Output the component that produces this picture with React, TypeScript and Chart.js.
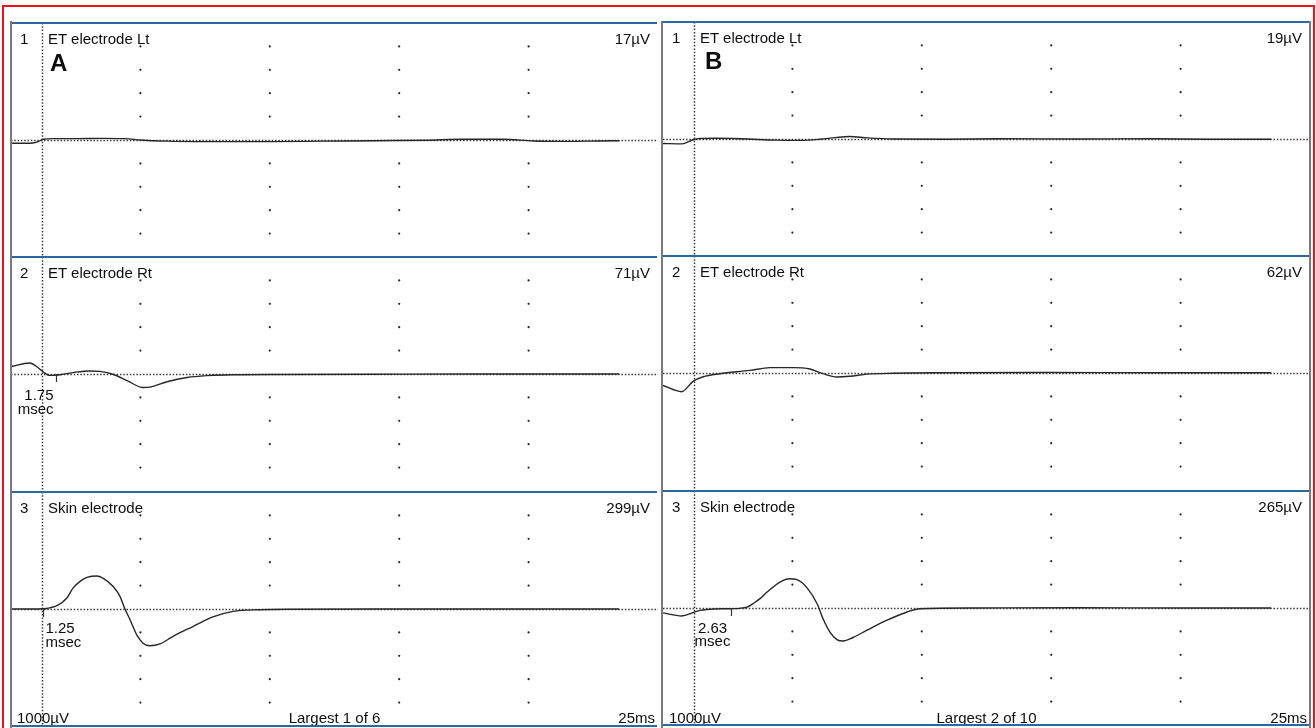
import React, { useEffect, useRef } from 'react';
import { Chart, registerables } from 'chart.js';

Chart.register(...registerables);

// ---------- data ----------
const channelNo = ['1', '2', '3'];
const channelName = ['ET electrode Lt', 'ET electrode Rt', 'Skin electrode'];
const peakA = ['17µV', '71µV', '299µV'];
const peakB = ['19µV', '62µV', '265µV'];
const panelLetter = ['A', 'B'];
const sensitivityLabel = '1000µV';
const sweepLabel = '25ms';
const summaryA = 'Largest 1 of 6';
const summaryB = 'Largest 2 of 10';

const latencyA: (number | null)[] = [null, 1.75, 1.25];
const latencyB: (number | null)[] = [null, null, 2.63];
const latencyUnit = 'msec';

const gridMs = [5, 10, 15, 20];
const gridUv = [-400, -300, -200, -100, 100, 200, 300, 400];
const stimulusMs = 1.2;
const sweepMs = 25;
const rangeUv = 500;

// Panel A traces (time ms, amplitude µV)
const a1Time = [0, 0.7, 1.0, 1.25, 1.6, 2.5, 3.5, 4.4, 5.0, 6, 8, 10, 12, 14, 16, 17.5, 19, 20.2, 21.5, 22.7, 23.5];
const a1Uv = [-14, -14, -9, 3, 6, 6, 7, 6, 0, -5, -7, -7, -5, -3, -1, 3, 3, -4, -6, -4, -3];

const a2Time = [0, 0.73, 1.0, 1.24, 1.5, 1.9, 2.5, 3.05, 3.44, 3.94, 4.5, 5.1, 5.37, 6.03, 6.8, 7.57, 8.58, 10.4, 14, 18, 23.5];
const a2Uv = [32, 47, 31, 9, -6, -3, 8, 13, 11, -1, -29, -58, -56, -33, -15, -7, -3, -2, -1, 0, 0];

const a3Time = [0, 0.73, 1.24, 1.5, 1.78, 2.16, 2.4, 2.67, 2.94, 3.32, 3.55, 3.94, 4.21, 4.4, 4.6, 4.87, 5.1, 5.37, 5.76, 6.26, 7.03, 7.8, 8.58, 9.6, 11, 15, 20, 23.5];
const a3Uv = [0, 0, 1, 5, 14, 47, 90, 118, 135, 141, 132, 97, 54, 1, -46, -113, -146, -157, -149, -117, -75, -34, -10, -3, -1, 0, 0, 0];

// Panel B traces
const b1Time = [0, 0.73, 1.16, 1.43, 2.0, 3.0, 4.4, 5.3, 6.07, 6.65, 7.2, 7.9, 8.9, 11, 13, 16, 19, 21, 23.5];
const b1Uv = [-19, -21, -3, 2, 3, 1, -5, -6, -1, 6, 11, 5, 0, -1, 1, 0, 1, -1, -1];

const b2Time = [0, 0.72, 1.16, 1.55, 2.2, 3.36, 4.13, 5.02, 5.68, 6.18, 6.72, 7.22, 7.88, 8.89, 11, 15, 19, 23.5];
const b2Uv = [-53, -80, -36, -16, -3, 11, 23, 23, 17, -3, -17, -14, -5, -1, 1, 2, 1, 1];

const b3Time = [0, 0.72, 1.16, 1.43, 2.0, 2.6, 3.25, 3.48, 3.75, 4.02, 4.52, 4.9, 5.18, 5.56, 5.95, 6.18, 6.45, 6.72, 6.96, 7.34, 7.88, 8.66, 9.43, 9.93, 12, 16, 20, 23.5];
const b3Uv = [-21, -34, -20, -10, -4, -3, 4, 19, 40, 68, 111, 125, 121, 87, 19, -45, -103, -135, -141, -126, -95, -52, -17, -3, 0, 1, 0, 0];

const tracesA = [
  { t: a1Time, v: a1Uv },
  { t: a2Time, v: a2Uv },
  { t: a3Time, v: a3Uv },
];
const tracesB = [
  { t: b1Time, v: b1Uv },
  { t: b2Time, v: b2Uv },
  { t: b3Time, v: b3Uv },
];

// ---------- layout ----------
const PANEL_W = 647;
const ROW_H = 234;
const panelLeft = [11, 663];
const rowTops = [
  [23, 257, 492],
  [22, 256, 491],
];
const FONT = '"Liberation Sans", Arial, Helvetica, sans-serif';
const TEXT = '#0d0d0d';

const emgPlugin = {
  id: 'emgGrid',
  beforeDatasetsDraw(chart: any) {
    const { ctx, chartArea: a, scales } = chart;
    const x = scales.x;
    const y = scales.y;
    ctx.save();
    ctx.fillStyle = '#262626';
    for (const gx of gridMs) {
      for (const gy of gridUv) {
        const px = x.getPixelForValue(gx);
        const py = y.getPixelForValue(gy);
        ctx.beginPath();
        ctx.arc(px, py, 1.1, 0, Math.PI * 2);
        ctx.fill();
      }
    }
    ctx.strokeStyle = '#3a3a3a';
    ctx.lineWidth = 1.5;
    ctx.setLineDash([1.5, 1.8]);
    const by = Math.round(y.getPixelForValue(0)) + 0.5;
    ctx.beginPath();
    ctx.moveTo(a.left, by);
    ctx.lineTo(a.right, by);
    ctx.stroke();
    const sx = Math.round(x.getPixelForValue(stimulusMs)) + 0.5;
    ctx.beginPath();
    ctx.moveTo(sx, a.top);
    ctx.lineTo(sx, a.bottom);
    ctx.stroke();
    ctx.restore();
  },
  afterDatasetsDraw(chart: any, _args: any, opts: any) {
    if (opts == null || opts.latency == null) return;
    const { ctx, scales } = chart;
    const px = Math.round(scales.x.getPixelForValue(opts.latency)) + 0.5;
    const py = scales.y.getPixelForValue(0);
    ctx.save();
    ctx.strokeStyle = '#333';
    ctx.lineWidth = 1.2;
    ctx.beginPath();
    ctx.moveTo(px, py);
    ctx.lineTo(px, py + 8);
    ctx.stroke();
    ctx.restore();
  },
};

function TraceChart(props: { left: number; top: number; t: number[]; v: number[]; latency: number | null }) {
  const ref = useRef<HTMLCanvasElement>(null);
  useEffect(() => {
    const canvas = ref.current;
    if (!canvas) return;
    const chart = new Chart(canvas, {
      type: 'line',
      data: {
        datasets: [
          {
            data: props.t.map((t, i) => ({ x: t, y: props.v[i] })),
            borderColor: '#262626',
            borderWidth: 1.4,
            pointRadius: 0,
            cubicInterpolationMode: 'monotone',
            fill: false,
          },
        ],
      },
      options: {
        animation: false,
        responsive: false,
        maintainAspectRatio: false,
        events: [],
        layout: { padding: 0 },
        plugins: {
          legend: { display: false },
          tooltip: { enabled: false },
          emgGrid: { latency: props.latency },
        } as any,
        scales: {
          x: { type: 'linear', min: 0, max: sweepMs, display: false },
          y: { type: 'linear', min: -rangeUv, max: rangeUv, display: false },
        },
      },
      plugins: [emgPlugin],
    } as any);
    return () => chart.destroy();
  }, []);
  return (
    <canvas
      ref={ref}
      width={PANEL_W}
      height={ROW_H}
      style={{ position: 'absolute', left: props.left, top: props.top, width: PANEL_W, height: ROW_H }}
    />
  );
}

function Txt(props: { left?: number; right?: number; top: number; size?: number; bold?: boolean; align?: any; children: any; lh?: number; width?: number }) {
  const size = props.size ?? 15;
  const style: any = {
    position: 'absolute',
    top: props.top,
    fontFamily: FONT,
    fontSize: size,
    lineHeight: props.lh ? `${props.lh}px` : `${size}px`,
    fontWeight: props.bold ? 'bold' : 'normal',
    color: TEXT,
    whiteSpace: 'pre',
    textAlign: props.align ?? 'left',
  };
  if (props.left != null) style.left = props.left;
  if (props.right != null) style.right = 1316 - props.right;
  if (props.width != null) style.width = props.width;
  return <div style={style}>{props.children}</div>;
}

export default function App() {
  const panels = [0, 1];
  const els: any[] = [];
  panels.forEach((p) => {
    const L = panelLeft[p];
    const R = L + PANEL_W;
    const traces = p === 0 ? tracesA : tracesB;
    const peaks = p === 0 ? peakA : peakB;
    const lats = p === 0 ? latencyA : latencyB;
    rowTops[p].forEach((top, r) => {
      els.push(
        <TraceChart key={`c${p}${r}`} left={L} top={top} t={traces[r].t} v={traces[r].v} latency={lats[r]} />
      );
      els.push(<Txt key={`n${p}${r}`} left={L + 9} top={top + 7.5}>{channelNo[r]}</Txt>);
      els.push(<Txt key={`l${p}${r}`} left={L + 37} top={top + 7.5}>{channelName[r]}</Txt>);
      els.push(<Txt key={`a${p}${r}`} right={R - 8} top={top + 7.5}>{peaks[r]}</Txt>);
    });
    const bottom = rowTops[p][2] + ROW_H;
    els.push(<Txt key={`s${p}`} left={L + 6} top={709.5}>{sensitivityLabel}</Txt>);
    els.push(
      <Txt key={`g${p}`} left={L} width={PANEL_W} align="center" top={709.5}>
        {p === 0 ? summaryA : summaryB}
      </Txt>
    );
    els.push(<Txt key={`w${p}`} right={R - 3} top={709.5}>{sweepLabel}</Txt>);
    els.push(
      <Txt key={`p${p}`} left={p === 0 ? 50 : 705} top={p === 0 ? 51 : 49} size={24} bold>
        {panelLetter[p]}
      </Txt>
    );
    // frame lines
    rowTops[p].concat([bottom]).forEach((y, i) => {
      els.push(
        <div
          key={`h${p}${i}`}
          style={{ position: 'absolute', left: L, top: y - 1, width: p === 0 ? PANEL_W - 1 : PANEL_W, height: 2, background: '#2c66a3' }}
        />
      );
    });
  });
  // latency labels
  els.push(
    <Txt key="lat1" right={53.5} top={388} lh={13.5} align="right">
      {`${latencyA[1]!.toFixed(2)}\n${latencyUnit}`}
    </Txt>
  );
  els.push(
    <Txt key="lat2" left={45.5} top={621} lh={13.5}>
      {`${latencyA[2]!.toFixed(2)}\n${latencyUnit}`}
    </Txt>
  );
  els.push(
    <Txt key="lat3" left={682.5} width={60} align="center" top={620.5} lh={13.5}>
      {`${latencyB[2]!.toFixed(2)}\n${latencyUnit}`}
    </Txt>
  );
  // vertical panel borders
  [10, 661, 1309].forEach((x, i) => {
    els.push(
      <div key={`v${i}`} style={{ position: 'absolute', left: x, top: 21, width: 2, height: 707, background: '#7a7a7a' }} />
    );
  });
  return (
    <div style={{ position: 'absolute', left: 0, top: 0, width: 1316, height: 728, background: '#fff', overflow: 'hidden' }}>
      {els}
      <div
        style={{
          position: 'absolute',
          left: 2,
          top: 5,
          width: 1309,
          height: 740,
          border: '2px solid #e8141b',
        }}
      />
    </div>
  );
}
